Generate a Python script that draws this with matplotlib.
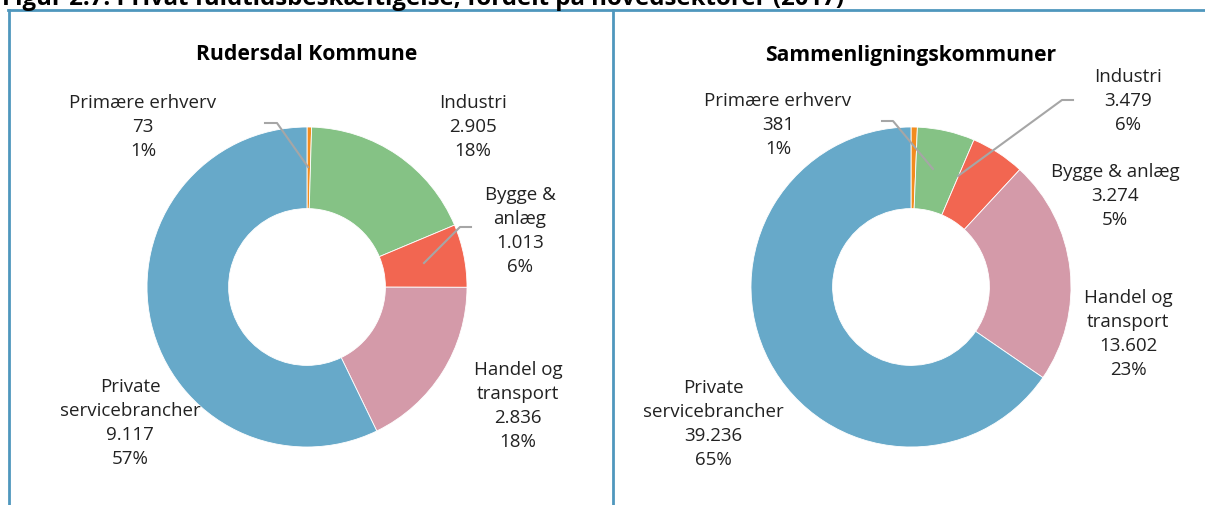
import numpy as np
import matplotlib.pyplot as plt
from matplotlib.lines import Line2D

plt.rcParams['font.family'] = ['Open Sans', 'DejaVu Sans']

# Data
sektorer = ["Primære erhverv", "Industri", "Bygge & anlæg", "Handel og transport", "Private servicebrancher"]
rudersdal = [73, 2905, 1013, 2836, 9117]
rudersdal_pct = [1, 18, 6, 18, 57]
sammenlign = [381, 3479, 3274, 13602, 39236]
sammenlign_pct = [1, 6, 5, 23, 65]
farver = ["#F28C1E", "#85C285", "#F26651", "#D49AA9", "#67A9C9"]

titel = "Figur 2.7. Privat fuldtidsbeskæftigelse, fordelt på hovedsektorer (2017)"
titler = ["Rudersdal Kommune", "Sammenligningskommuner"]

W, H = 1205, 506
fig = plt.figure(figsize=(W / 100, H / 100), dpi=100)

def fx(x):
    return x / W

def fy(y):
    return 1 - y / H

def fmt(v):
    return f"{v:,}".replace(",", ".")

# Etiket-tekster pr. panel (linjeskift som i original)
navne_v = ["Primære erhverv", "Industri", "Bygge &\nanlæg", "Handel og\ntransport", "Private\nservicebrancher"]
navne_h = ["Primære erhverv", "Industri", "Bygge & anlæg", "Handel og\ntransport", "Private\nservicebrancher"]

# label-positioner (pixel, centrum)
pos_v = [(143, 127), (473, 127), (520, 231), (518, 406), (130, 423)]
pos_h = [(778, 125), (1128, 101), (1115, 196), (1128, 334), (713, 424)]

# ledelinjer
led_v = [[(265, 124), (277, 124), (308, 168)], None, [(471, 228), (460, 228), (424, 264)], None, None]
led_h = [[(882, 122), (893, 122), (933, 170)], [(1073, 101), (1062, 101), (958, 177)], None, None, None]

paneler = [
    (rudersdal, rudersdal_pct, titler[0], 307, navne_v, pos_v, led_v),
    (sammenlign, sammenlign_pct, titler[1], 911, navne_h, pos_h, led_h),
]

for data, pcts, t, cx, navne, pos, led in paneler:
    r = 160
    cy = 288
    ax = fig.add_axes([fx(cx - r), fy(cy + r), fx(2 * r), 2 * r / H])
    ax.pie(data, colors=farver, startangle=90, counterclock=False,
           wedgeprops=dict(width=0.51, edgecolor="white", linewidth=0.6))
    ax.set_xlim(-1, 1)
    ax.set_ylim(-1, 1)
    ax.set_aspect("equal")
    fig.text(fx(cx), fy(55), t, ha="center", va="center", fontsize=15.2, fontweight="bold")
    for i, v in enumerate(data):
        s = f"{navne[i]}\n{fmt(v)}\n{pcts[i]}%"
        fig.text(fx(pos[i][0]), fy(pos[i][1]), s, ha="center", va="center",
                 fontsize=13.5, linespacing=1.42, color="#222222")
        if led[i] is not None:
            xs = [fx(p[0]) for p in led[i]]
            ys = [fy(p[1]) for p in led[i]]
            fig.add_artist(Line2D(xs, ys, color="#A6A6A6", linewidth=1.5))

# ramme
blaa = "#4F97BD"
fig.add_artist(Line2D([fx(8), fx(1205)], [fy(11), fy(11)], color=blaa, linewidth=2))
fig.add_artist(Line2D([fx(9), fx(9)], [fy(11), fy(506)], color=blaa, linewidth=2))
fig.add_artist(Line2D([fx(613), fx(613)], [fy(11), fy(506)], color=blaa, linewidth=2))

# overskrift, delvist beskåret foroven
fig.text(fx(2), fy(5), titel, ha="left", va="baseline", fontsize=17.3, fontweight="bold")

fig.savefig("out.png", dpi=100)
